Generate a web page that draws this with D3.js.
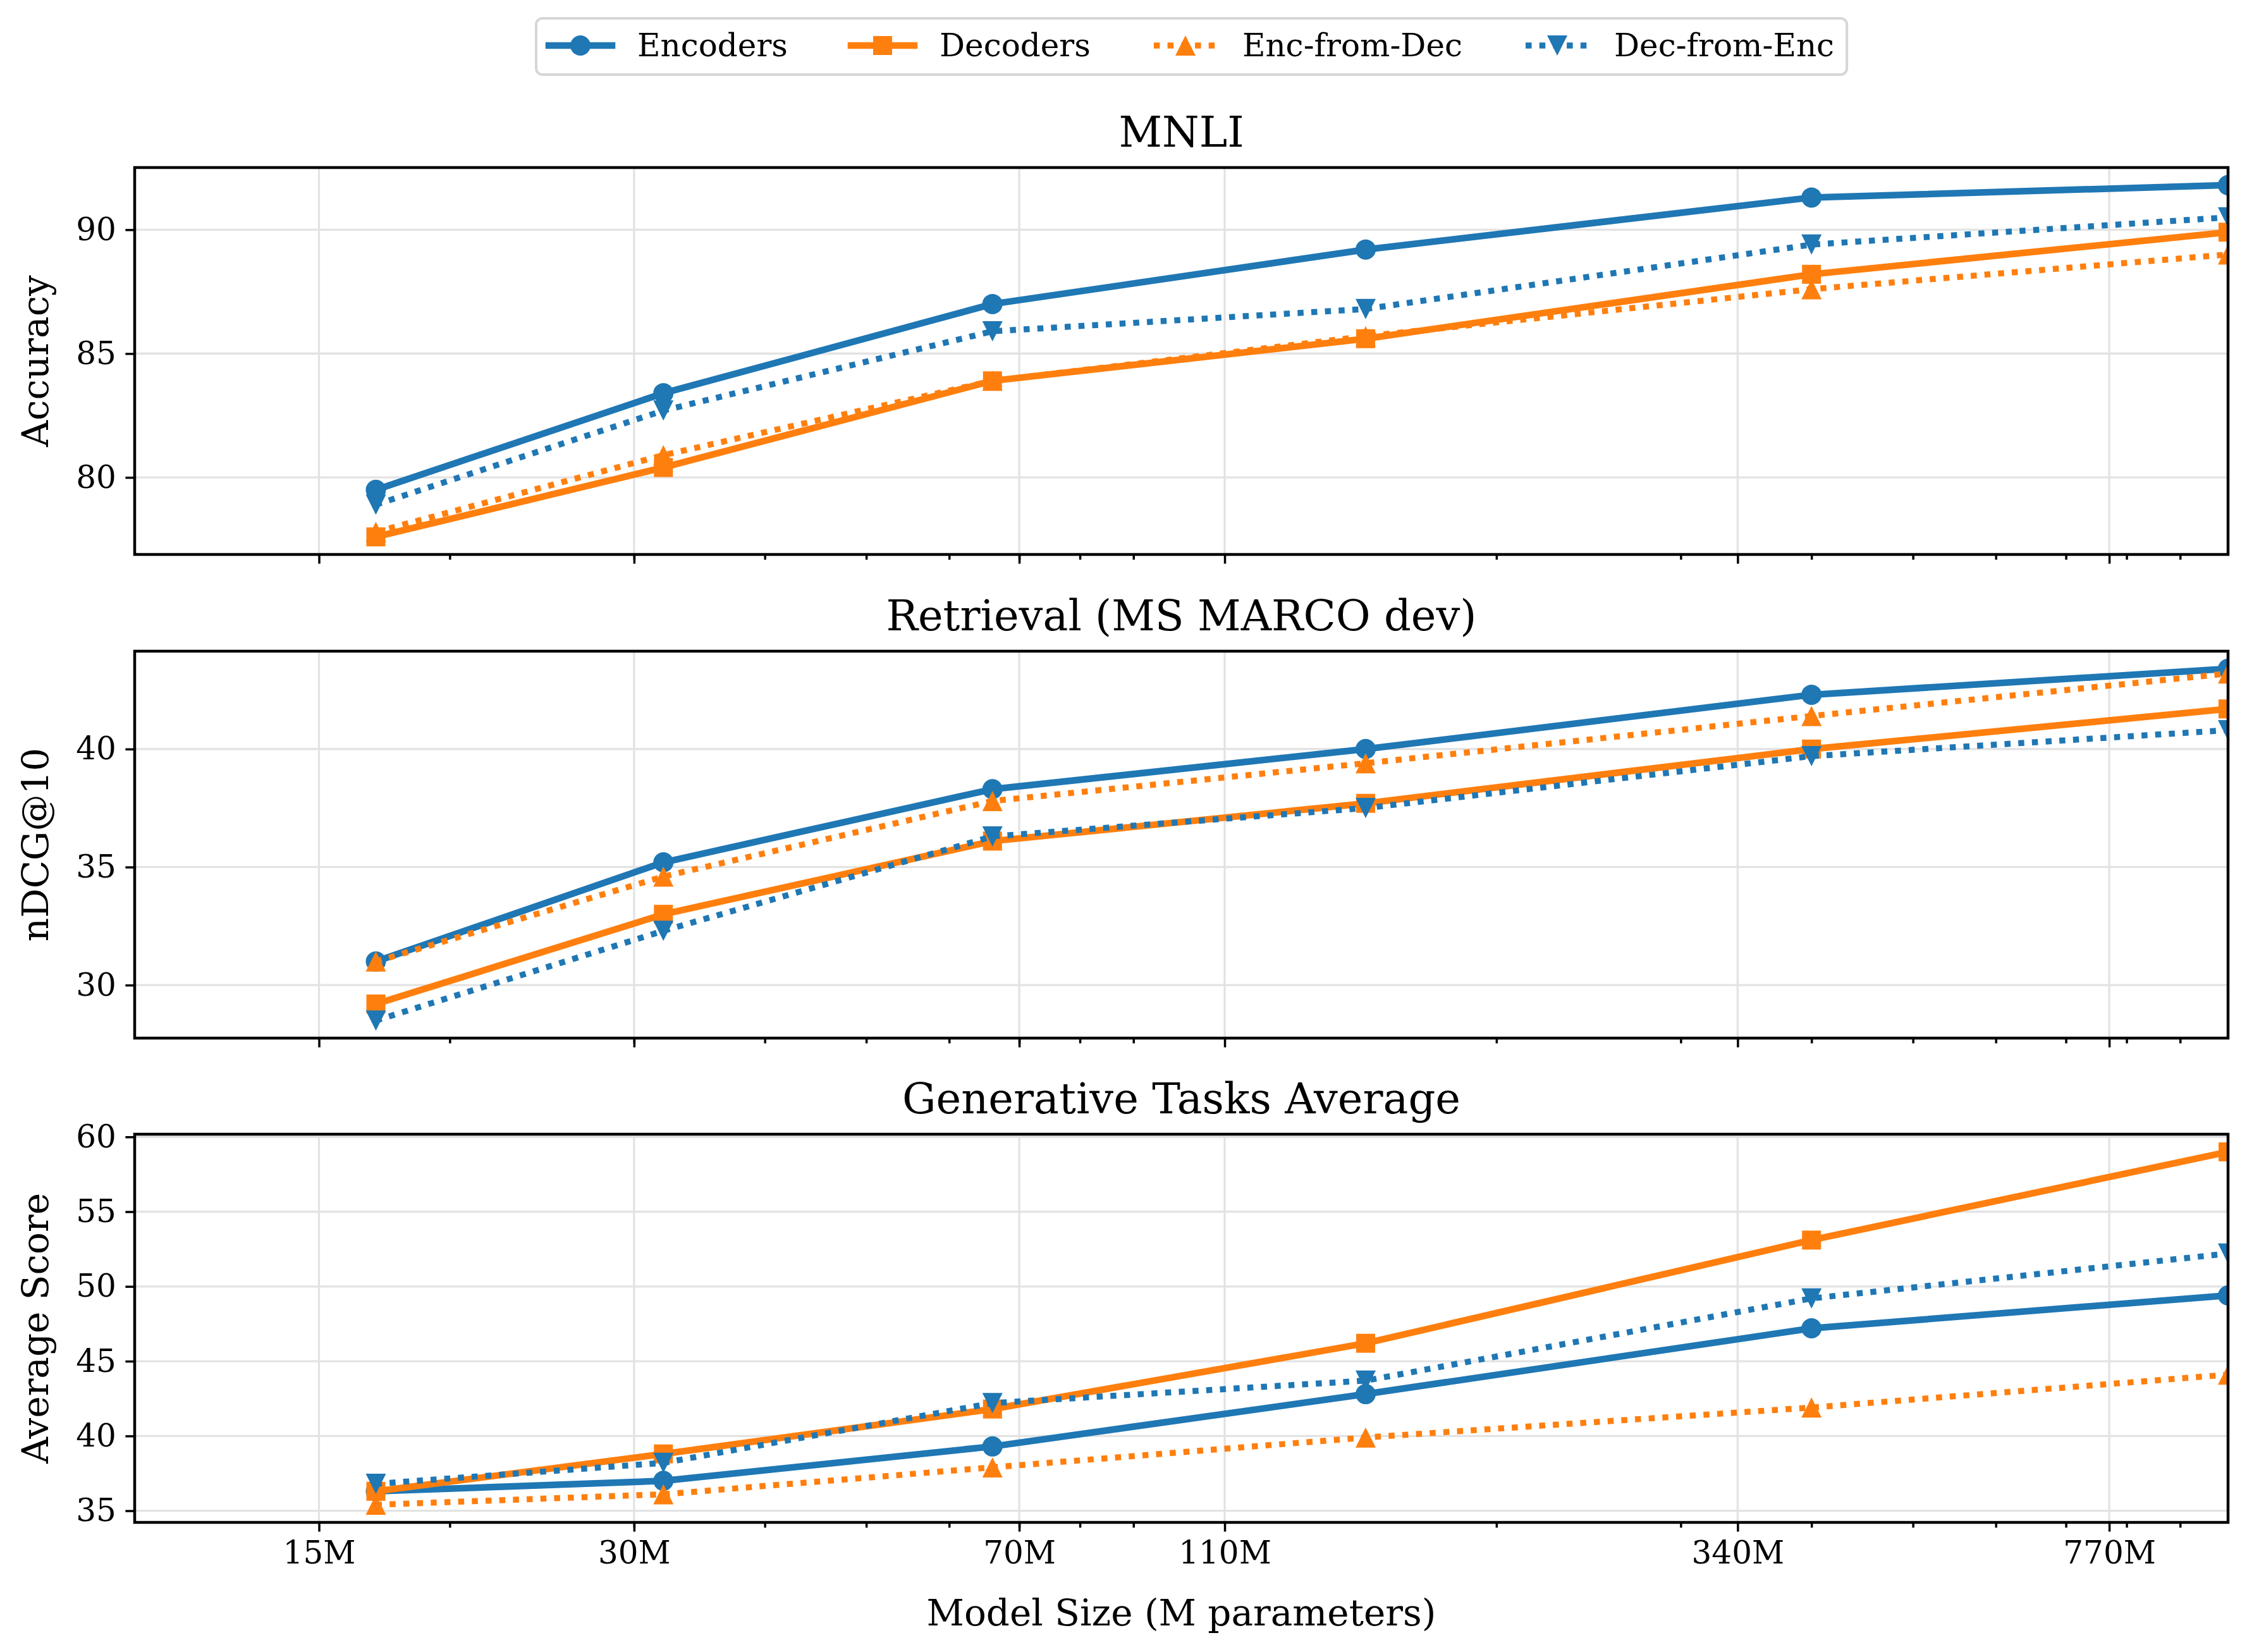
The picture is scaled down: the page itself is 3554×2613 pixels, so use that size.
<!DOCTYPE html>
<html>
<head>
<meta charset="utf-8">
<script src="https://cdn.jsdelivr.net/npm/d3@7"></script>
<style>
  body { margin: 0; background: #fff; }
  svg { display: block; }
</style>
</head>
<body>
<div id="chart"></div>
<script>
// model sizes (M params) and the x tick labels
const modelSizes = [17, 32, 66, 150, 400, 1000];
const xTickValues = [15, 30, 70, 110, 340, 770];
const xTickLabels = ["15M", "30M", "70M", "110M", "340M", "770M"];
const xMinorTicks = [20, 30, 40, 50, 60, 70, 80, 90, 200, 300, 400, 500, 600, 700, 800, 900];

const seriesNames = ["Encoders", "Decoders", "Enc-from-Dec", "Dec-from-Enc"];

// MNLI accuracy
const mnliEnc = [79.5, 83.4, 87.0, 89.2, 91.3, 91.8];
const mnliDec = [77.6, 80.4, 83.9, 85.6, 88.2, 89.9];
const mnliEncFromDec = [77.8, 80.9, 83.9, 85.7, 87.6, 89.0];
const mnliDecFromEnc = [78.9, 82.7, 85.9, 86.8, 89.4, 90.5];
const mnliTicks = [80, 85, 90];

// retrieval nDCG@10
const retEnc = [31.0, 35.2, 38.3, 40.0, 42.3, 43.4];
const retDec = [29.2, 33.0, 36.1, 37.7, 40.0, 41.7];
const retEncFromDec = [31.0, 34.6, 37.8, 39.4, 41.4, 43.2];
const retDecFromEnc = [28.5, 32.3, 36.3, 37.5, 39.7, 40.8];
const retTicks = [30, 35, 40];

// generative average
const genEnc = [36.3, 37.0, 39.3, 42.8, 47.2, 49.4];
const genDec = [36.3, 38.8, 41.8, 46.2, 53.1, 59.0];
const genEncFromDec = [35.4, 36.1, 37.9, 39.9, 41.9, 44.1];
const genDecFromEnc = [36.8, 38.2, 42.2, 43.7, 49.2, 52.2];
const genTicks = [35, 40, 45, 50, 55, 60];

class ScalingVis {

    constructor(_parentElement) {
        this.parentElement = _parentElement;
        this.initVis();
    }

    initVis() {
        let vis = this;

        vis.width = 3554;
        vis.height = 2613;
        vis.font = "'DejaVu Serif', 'Liberation Serif', serif";

        vis.styles = {
            "Encoders": { color: "#1f77b4", marker: "circle", dotted: false },
            "Decoders": { color: "#ff7f0e", marker: "square", dotted: false },
            "Enc-from-Dec": { color: "#ff7f0e", marker: "up", dotted: true },
            "Dec-from-Enc": { color: "#1f77b4", marker: "down", dotted: true }
        };

        vis.panels = [
            { title: "MNLI", ylabel: "Accuracy", ticks: mnliTicks, top: 265, bottom: 877,
              values: [mnliEnc, mnliDec, mnliEncFromDec, mnliDecFromEnc] },
            { title: "Retrieval (MS MARCO dev)", ylabel: "nDCG@10", ticks: retTicks, top: 1030, bottom: 1642,
              values: [retEnc, retDec, retEncFromDec, retDecFromEnc] },
            { title: "Generative Tasks Average", ylabel: "Average Score", ticks: genTicks, top: 1794, bottom: 2408,
              values: [genEnc, genDec, genEncFromDec, genDecFromEnc] }
        ];

        vis.svg = d3.select("#" + vis.parentElement).append("svg")
            .attr("width", vis.width)
            .attr("height", vis.height);

        vis.svg.append("rect")
            .attr("width", vis.width)
            .attr("height", vis.height)
            .attr("fill", "#fff");

        vis.x = d3.scaleLog()
            .domain([10, 1000])
            .range([213, 3524]);

        vis.wrangleData();
    }

    wrangleData() {
        let vis = this;

        vis.panels.forEach(function(p) {
            p.series = seriesNames.map(function(name, i) {
                return {
                    name: name,
                    points: modelSizes.map((m, j) => ({ size: m, value: p.values[i][j] }))
                };
            });
            // matplotlib style 5% margin on y
            let all = d3.merge(p.values);
            let ext = d3.extent(all);
            let pad = (ext[1] - ext[0]) * 0.05;
            p.domain = [ext[0] - pad, ext[1] + pad];
        });

        vis.updateVis();
    }

    markerPath(type) {
        if (type === "circle") return d3.symbol().type(d3.symbolCircle).size(Math.PI * 16 * 16)();
        if (type === "square") return d3.symbol().type(d3.symbolSquare).size(30 * 30)();
        if (type === "up") return "M0,-16L16,16L-16,16Z";
        return "M0,16L16,-16L-16,-16Z";
    }

    updateVis() {
        let vis = this;
        let x = vis.x;
        let xl = x.range()[0], xr = x.range()[1];

        vis.panels.forEach(function(p, pi) {
            let y = d3.scaleLinear().domain(p.domain).range([p.bottom, p.top]);
            let g = vis.svg.append("g");

            let clipId = "clip" + pi;
            vis.svg.append("clipPath").attr("id", clipId)
                .append("rect")
                .attr("x", xl).attr("y", p.top)
                .attr("width", xr - xl).attr("height", p.bottom - p.top);

            // grid
            g.selectAll(".gx").data(xTickValues).enter().append("line")
                .attr("x1", d => x(d)).attr("x2", d => x(d))
                .attr("y1", p.top).attr("y2", p.bottom)
                .attr("stroke", "#e3e3e3").attr("stroke-width", 3.3);
            g.selectAll(".gy").data(p.ticks).enter().append("line")
                .attr("x1", xl).attr("x2", xr)
                .attr("y1", d => y(d)).attr("y2", d => y(d))
                .attr("stroke", "#e3e3e3").attr("stroke-width", 3.3);

            // series
            let plot = g.append("g").attr("clip-path", "url(#" + clipId + ")");
            let line = d3.line().x(d => x(d.size)).y(d => y(d.value));

            p.series.forEach(function(s) {
                let st = vis.styles[s.name];
                plot.append("path")
                    .datum(s.points)
                    .attr("d", line)
                    .attr("fill", "none")
                    .attr("stroke", st.color)
                    .attr("stroke-width", st.dotted ? 9.5 : 10.5)
                    .attr("stroke-linejoin", "round")
                    .attr("stroke-dasharray", st.dotted ? "9.5,12.2" : null);

                plot.selectAll(null).data(s.points).enter().append("path")
                    .attr("d", vis.markerPath(st.marker))
                    .attr("transform", d => "translate(" + x(d.size) + "," + y(d.value) + ")")
                    .attr("fill", st.color);
            });

            // axes
            let xAxis = d3.axisBottom(x)
                .tickValues(xTickValues)
                .tickFormat((d, i) => pi === vis.panels.length - 1 ? xTickLabels[i] : "")
                .tickSize(14.6)
                .tickPadding(14.6);
            let xMinor = d3.axisBottom(x)
                .tickValues(xMinorTicks)
                .tickFormat("")
                .tickSize(8.3);
            let yAxis = d3.axisLeft(y)
                .tickValues(p.ticks)
                .tickSize(14.6)
                .tickPadding(14.6);

            [["x", xAxis], ["x", xMinor], ["y", yAxis]].forEach(function(a) {
                let ag = g.append("g")
                    .attr("transform", a[0] === "x" ? "translate(0," + p.bottom + ")" : "translate(" + xl + ",0)")
                    .call(a[1]);
                ag.select(".domain").remove();
                ag.selectAll(".tick line").attr("stroke", "#000").attr("stroke-width", 3.5);
                ag.selectAll(".tick text")
                    .attr("fill", "#000")
                    .style("font-family", vis.font)
                    .style("font-size", "50px");
            });

            // spines
            g.append("rect")
                .attr("x", xl).attr("y", p.top)
                .attr("width", xr - xl).attr("height", p.bottom - p.top)
                .attr("fill", "none")
                .attr("stroke", "#000")
                .attr("stroke-width", 4.5);

            g.append("text")
                .attr("x", (xl + xr) / 2)
                .attr("y", p.top - 33)
                .attr("text-anchor", "middle")
                .style("font-family", vis.font)
                .style("font-size", "67px")
                .text(p.title);

            g.append("text")
                .attr("transform", "translate(76," + (p.top + p.bottom) / 2 + ") rotate(-90)")
                .attr("text-anchor", "middle")
                .style("font-family", vis.font)
                .style("font-size", "58px")
                .text(p.ylabel);
        });

        vis.svg.append("text")
            .attr("x", (xl + xr) / 2)
            .attr("y", 2571)
            .attr("text-anchor", "middle")
            .style("font-family", vis.font)
            .style("font-size", "58px")
            .text("Model Size (M parameters)");

        vis.drawLegend();
    }

    drawLegend() {
        let vis = this;

        let left = 848, top = 29, boxH = 89;
        let handleY = 72, textY = 89;
        let lg = vis.svg.append("g");
        let frame = lg.append("rect");

        let hs = left + 20;
        seriesNames.forEach(function(name) {
            let st = vis.styles[name];
            lg.append("line")
                .attr("x1", hs).attr("x2", hs + 100)
                .attr("y1", handleY).attr("y2", handleY)
                .attr("stroke", st.color)
                .attr("stroke-width", st.dotted ? 9.5 : 10.5)
                .attr("stroke-linecap", st.dotted ? "butt" : "square")
                .attr("stroke-dasharray", st.dotted ? "9.5,12.2" : null);
            lg.append("path")
                .attr("d", vis.markerPath(st.marker))
                .attr("transform", "translate(" + (hs + 50) + "," + handleY + ")")
                .attr("fill", st.color);
            let t = lg.append("text")
                .attr("x", hs + 140)
                .attr("y", textY)
                .style("font-family", vis.font)
                .style("font-size", "50px")
                .text(name);
            let w = t.node().getComputedTextLength();
            hs = hs + 140 + w + 100;
        });
        let right = hs - 100 + 20;

        frame.attr("x", left).attr("y", top)
            .attr("width", right - left).attr("height", boxH)
            .attr("rx", 10).attr("ry", 10)
            .attr("fill", "#fff")
            .attr("stroke", "#d6d6d6")
            .attr("stroke-width", 4);
    }
}

new ScalingVis("chart");
</script>
</body>
</html>
